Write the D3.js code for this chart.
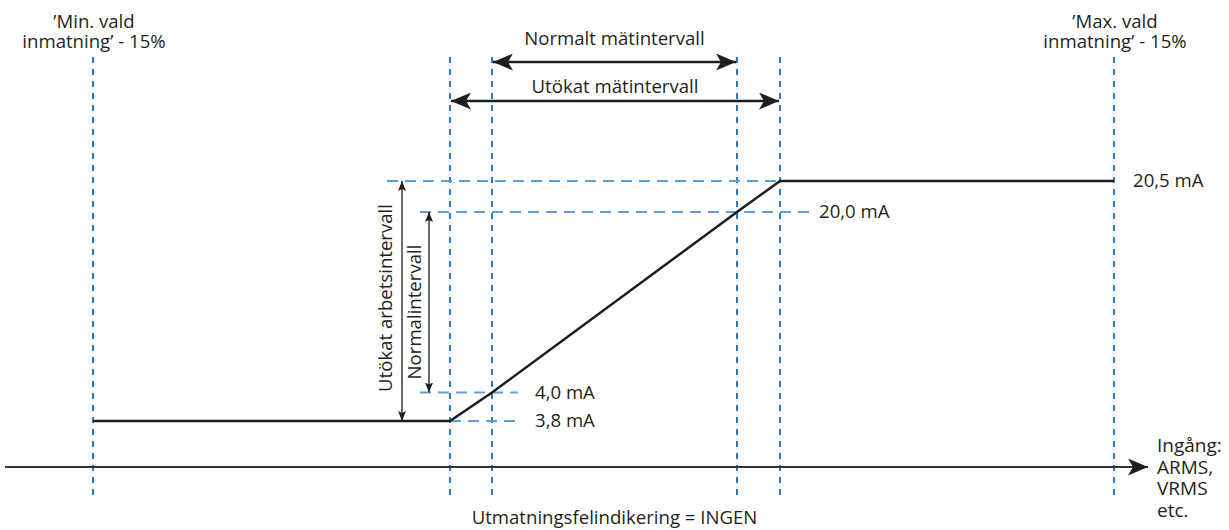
<!DOCTYPE html>
<html>
<head>
<meta charset="utf-8">
<script src="https://cdn.jsdelivr.net/npm/d3@7"></script>
<style>
  body { margin: 0; background: #fff; }
  text { font-family: "Open Sans", sans-serif; fill: #231f20; }
</style>
</head>
<body>
<div id="chart"></div>
<script>
// Schematic input breakpoints and the output current at each one
const breakpoints = ["minValid", "extLow", "normLow", "normHigh", "extHigh", "maxValid"];
const outputMA = [3.8, 3.8, 4.0, 20.0, 20.5, 20.5];

// Output levels marked on the right
const levelValues = [20.5, 20.0, 4.0, 3.8];
const levelLabels = ["20,5 mA", "20,0 mA", "4,0 mA", "3,8 mA"];

// Texts
const minLabel = ["\u2019Min. vald", "inmatning\u2019 - 15%"];
const maxLabel = ["\u2019Max. vald", "inmatning\u2019 - 15%"];
const inputLabel = ["Ingång:", "ARMS,", "VRMS", "etc."];
const footLabel = "Utmatningsfelindikering = INGEN";

const width = 1229, height = 530;
const blue = "#2a7bc4", lightBlue = "#5d9fd8", ink = "#1e1e1e";
const fs = "18.6px";

const svg = d3.select("#chart").append("svg")
    .attr("width", width)
    .attr("height", height);

// schematic scales (not to scale in the original either)
const x = d3.scaleOrdinal()
    .domain(breakpoints)
    .range([93, 450, 492, 737, 780, 1114]);

const y = d3.scaleLinear()
    .domain([3.8, 4.0, 20.0, 20.5])
    .range([421, 392.5, 212, 181]);

const axisY = 467;

// arrow markers
const defs = svg.append("defs");
function marker(id, len, half, notch, color) {
    defs.append("marker")
        .attr("id", id)
        .attr("viewBox", `${-len} ${-half} ${len} ${half * 2}`)
        .attr("refX", 0).attr("refY", 0)
        .attr("markerUnits", "userSpaceOnUse")
        .attr("markerWidth", len).attr("markerHeight", half * 2)
        .attr("orient", "auto-start-reverse")
        .append("path")
        .attr("d", `M0,0L${-len},${-half}L${-len + notch},0L${-len},${half}Z`)
        .attr("fill", color);
}
marker("bigArrow", 20, 8.5, 5, ink);
marker("smallArrow", 10, 4, 2, ink);

// vertical dashed guides
svg.append("g").selectAll("line")
    .data(breakpoints)
    .enter().append("line")
    .attr("x1", d => x(d)).attr("x2", d => x(d))
    .attr("y1", 57).attr("y2", 498)
    .style("stroke", blue)
    .style("stroke-width", 2)
    .style("stroke-dasharray", "6,6");

// horizontal dashed level guides
const levelSpan = {
    20.5: [x("extLow") - 63, x("extHigh")],
    20.0: [x("extLow") - 30, x("extHigh") + 30],
    4.0: [x("extLow") - 30, x("normLow") + 26],
    3.8: [x("extLow"), x("normLow") + 28]
};
svg.append("g").selectAll("line")
    .data(levelValues)
    .enter().append("line")
    .attr("x1", d => levelSpan[d][0]).attr("x2", d => levelSpan[d][1])
    .attr("y1", d => y(d)).attr("y2", d => y(d))
    .style("stroke", lightBlue)
    .style("stroke-width", 2)
    .style("stroke-dasharray", "11,7");

// level labels
const labelX = { 20.5: x("maxValid") + 19, 20.0: x("extHigh") + 39, 4.0: x("normLow") + 43, 3.8: x("normLow") + 43 };
svg.append("g").selectAll("text")
    .data(levelValues)
    .enter().append("text")
    .attr("x", d => labelX[d])
    .attr("y", d => y(d) + 6)
    .style("font-size", fs)
    .text((d, i) => levelLabels[i]);

// x axis arrow
svg.append("line")
    .attr("x1", 5).attr("x2", 1148)
    .attr("y1", axisY).attr("y2", axisY)
    .style("stroke", "#333")
    .style("stroke-width", 2)
    .attr("marker-end", "url(#bigArrow)");

// output curve
const line = d3.line()
    .x((d, i) => x(breakpoints[i]))
    .y(d => y(d));

svg.append("path")
    .datum(outputMA)
    .attr("d", line)
    .style("fill", "none")
    .style("stroke", ink)
    .style("stroke-width", 2.5);

// horizontal range arrows
const hArrows = [
    { from: "normLow", to: "normHigh", y: 62, text: "Normalt mätintervall", ty: 45 },
    { from: "extLow", to: "extHigh", y: 101, text: "Utökat mätintervall", ty: 93 }
];
hArrows.forEach(a => {
    svg.append("line")
        .attr("x1", x(a.from) + 1).attr("x2", x(a.to) - 1)
        .attr("y1", a.y).attr("y2", a.y)
        .style("stroke", ink)
        .style("stroke-width", 2.5)
        .attr("marker-start", "url(#bigArrow)")
        .attr("marker-end", "url(#bigArrow)");
    svg.append("text")
        .attr("x", (x(a.from) + x(a.to)) / 2)
        .attr("y", a.ty)
        .attr("text-anchor", "middle")
        .style("font-size", fs)
        .text(a.text);
});

// vertical range arrows
const vArrows = [
    { lo: 3.8, hi: 20.5, x: 402, text: "Utökat arbetsintervall", tx: 392, ty: 298 },
    { lo: 4.0, hi: 20.0, x: 429, text: "Normalintervall", tx: 421, ty: 312 }
];
vArrows.forEach(a => {
    svg.append("line")
        .attr("x1", a.x).attr("x2", a.x)
        .attr("y1", y(a.hi)).attr("y2", y(a.lo))
        .style("stroke", ink)
        .style("stroke-width", 1.3)
        .attr("marker-start", "url(#smallArrow)")
        .attr("marker-end", "url(#smallArrow)");
    svg.append("text")
        .attr("transform", `translate(${a.tx},${a.ty}) rotate(-90)`)
        .attr("text-anchor", "middle")
        .style("font-size", fs)
        .text(a.text);
});

// top labels
[[minLabel, "minValid"], [maxLabel, "maxValid"]].forEach(([lines, key]) => {
    svg.append("text")
        .attr("text-anchor", "middle")
        .style("font-size", fs)
        .selectAll("tspan")
        .data(lines)
        .enter().append("tspan")
        .attr("x", x(key) + 1)
        .attr("y", (d, i) => 28 + i * 20)
        .text(d => d);
});

// input label at the end of the axis
svg.append("text")
    .style("font-size", "19px")
    .selectAll("tspan")
    .data(inputLabel)
    .enter().append("tspan")
    .attr("x", 1157)
    .attr("y", (d, i) => 452 + i * 21.7)
    .text(d => d);

// footer
svg.append("text")
    .attr("x", (x("normLow") + x("normHigh")) / 2)
    .attr("y", 524)
    .attr("text-anchor", "middle")
    .style("font-size", fs)
    .text(footLabel);
</script>
</body>
</html>
